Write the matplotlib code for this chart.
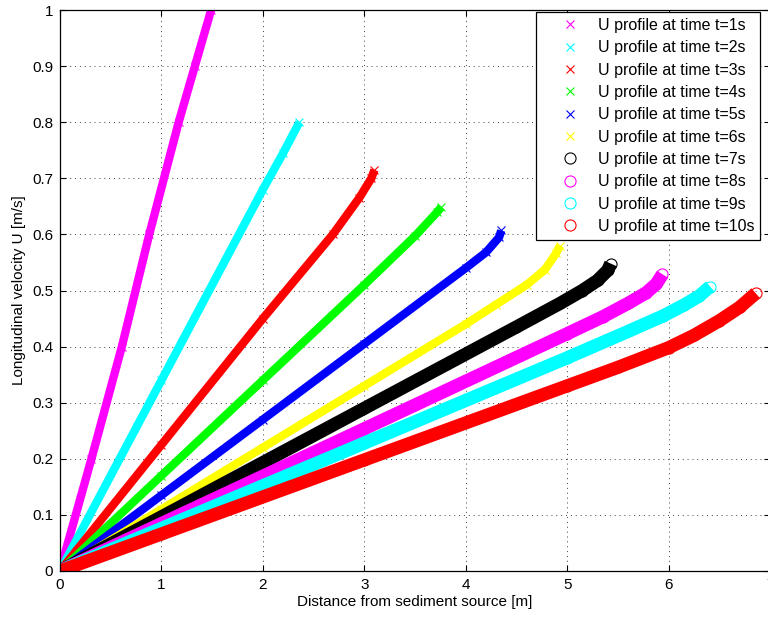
import matplotlib
matplotlib.use("Agg")
import matplotlib.pyplot as plt

plt.rcParams['font.family'] = ['Liberation Sans', 'DejaVu Sans']

# velocity profiles U(x) read at successive times
times = [1, 2, 3, 4, 5, 6, 7, 8, 9, 10]
colors = ['#ff00ff', '#00ffff', '#ff0000', '#00ff00', '#0000ff',
          '#ffff00', '#000000', '#ff00ff', '#00ffff', '#ff0000']
markers = ['x', 'x', 'x', 'x', 'x', 'x', 'o', 'o', 'o', 'o']

x_t1 = [0.0, 0.31, 0.61, 0.88, 1.17, 1.33, 1.49]
u_t1 = [0.0, 0.20, 0.40, 0.60, 0.80, 0.90, 1.00]

x_t2 = [0.0, 1.00, 2.00, 2.20, 2.36]
u_t2 = [0.0, 0.34, 0.68, 0.745, 0.80]

x_t3 = [0.0, 1.00, 2.00, 2.69, 2.95, 3.07, 3.10]
u_t3 = [0.0, 0.225, 0.45, 0.60, 0.665, 0.70, 0.715]

x_t4 = [0.0, 1.00, 2.00, 3.00, 3.50, 3.72, 3.76]
u_t4 = [0.0, 0.17, 0.34, 0.51, 0.597, 0.64, 0.649]

x_t5 = [0.0, 1.00, 2.00, 3.00, 4.00, 4.20, 4.33, 4.35]
u_t5 = [0.0, 0.135, 0.27, 0.405, 0.54, 0.568, 0.595, 0.607]

x_t6 = [0.0, 1.00, 2.00, 3.00, 4.00, 4.30, 4.60, 4.78, 4.89, 4.93]
u_t6 = [0.0, 0.11, 0.22, 0.33, 0.44, 0.475, 0.51, 0.537, 0.566, 0.58]

x_t7 = [0.0, 1.00, 3.00, 4.50, 4.93, 5.15, 5.30, 5.40, 5.43]
u_t7 = [0.0, 0.0965, 0.29, 0.435, 0.477, 0.50, 0.518, 0.536, 0.548]

x_t8 = [0.0, 1.00, 3.00, 5.00, 5.35, 5.60, 5.78, 5.88, 5.94]
u_t8 = [0.0, 0.0845, 0.2535, 0.423, 0.453, 0.477, 0.496, 0.512, 0.529]

x_t9 = [0.0, 1.00, 3.00, 5.00, 5.60, 5.95, 6.15, 6.30, 6.41]
u_t9 = [0.0, 0.076, 0.228, 0.38, 0.427, 0.455, 0.474, 0.49, 0.507]

x_t10 = [0.0, 1.00, 3.00, 5.00, 5.50, 6.00, 6.25, 6.50, 6.70, 6.86]
u_t10 = [0.0, 0.066, 0.198, 0.33, 0.363, 0.398, 0.42, 0.446, 0.47, 0.495]

xs = [x_t1, x_t2, x_t3, x_t4, x_t5, x_t6, x_t7, x_t8, x_t9, x_t10]
us = [u_t1, u_t2, u_t3, u_t4, u_t5, u_t6, u_t7, u_t8, u_t9, u_t10]

fig = plt.figure(figsize=(7.68, 6.18), dpi=100)
ax = fig.add_axes([60 / 768, 47 / 618, 710 / 768, 561 / 618])

for t, x, u, c, mk in zip(times, xs, us, colors, markers):
    band = 9.5 if mk == 'o' else 6.0
    ax.plot(x, u, '-', color=c, lw=band, solid_capstyle='butt',
            solid_joinstyle='round')
    if mk == 'o':
        ax.plot(x, u, 'o', mfc='none', mec=c, ms=8, mew=0.8,
                label='U profile at time t=%ds' % t)
    else:
        ax.plot(x, u, 'x', color=c, ms=6, mew=0.8,
                label='U profile at time t=%ds' % t)

ax.set_xlim(0, 7)
ax.set_ylim(0, 1)
ax.set_xticks(range(8))
ax.set_yticks([i / 10 for i in range(11)])
ax.set_yticklabels(['0', '0.1', '0.2', '0.3', '0.4', '0.5', '0.6', '0.7',
                    '0.8', '0.9', '1'])
ax.tick_params(direction='in', length=4, width=0.8, top=True, right=True,
               labelsize=11, pad=5)
ax.grid(True, color='0.25', linestyle=(0, (1, 4)), linewidth=0.7)
for s in ax.spines.values():
    s.set_linewidth(0.9)

ax.set_xlabel('Distance from sediment source [m]', fontsize=11, labelpad=2)
ax.set_ylabel('Longitudinal velocity U [m/s]', fontsize=11, labelpad=4)

leg = ax.legend(loc='upper right', bbox_to_anchor=(0.986, 0.996),
                borderaxespad=0, fontsize=11.5, fancybox=False,
                edgecolor='k', framealpha=1, handlelength=3.5,
                handletextpad=0.02, labelspacing=0.46, borderpad=0.35)
leg.get_frame().set_linewidth(0.9)

fig.savefig('out.png', dpi=100)
